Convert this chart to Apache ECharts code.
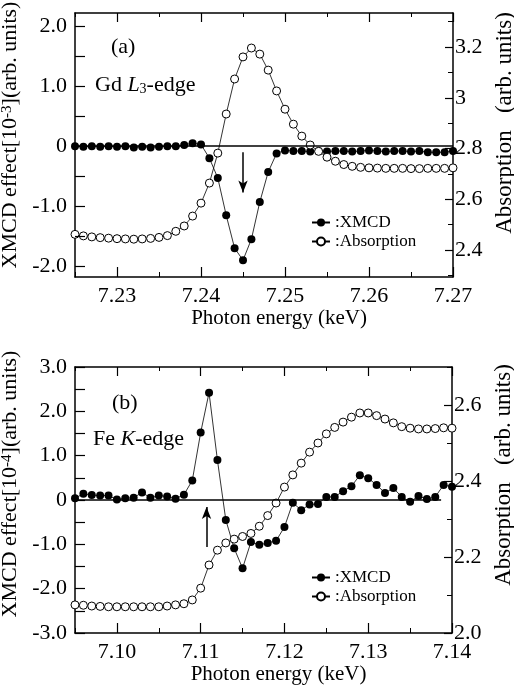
<!DOCTYPE html>
<html>
<head>
<meta charset="utf-8">
<script src="https://cdn.jsdelivr.net/npm/echarts@6/dist/echarts.min.js"></script>
<style>
  html, body { margin: 0; padding: 0; background: #fff; }
  #chart { width: 514px; height: 689px; }
</style>
</head>
<body>
<div id="chart"></div>
<script>
(function () {

  // ---- panel (a): Gd L3-edge ----
  var energyA = [7.225, 7.226, 7.227, 7.228, 7.229, 7.230, 7.231, 7.232, 7.233, 7.234,
                 7.235, 7.236, 7.237, 7.238, 7.239, 7.240, 7.241, 7.242, 7.243, 7.244,
                 7.245, 7.246, 7.247, 7.248, 7.249, 7.250, 7.251, 7.252, 7.253, 7.254,
                 7.255, 7.256, 7.257, 7.258, 7.259, 7.260, 7.261, 7.262, 7.263, 7.264,
                 7.265, 7.266, 7.267, 7.268, 7.269, 7.270];
  var xmcdA = [0.00, -0.01, 0.00, -0.01, 0.00, -0.01, 0.00, -0.02, -0.01, -0.02,
               -0.01, 0.00, 0.00, 0.02, 0.05, 0.03, -0.20, -0.53, -1.15, -1.70,
               -1.90, -1.55, -0.93, -0.43, -0.12, -0.07, -0.08, -0.08, -0.09, -0.08,
               -0.09, -0.08, -0.08, -0.09, -0.08, -0.07, -0.08, -0.09, -0.08, -0.08,
               -0.09, -0.08, -0.10, -0.10, -0.10, -0.08];
  var absA = [2.462, 2.456, 2.452, 2.449, 2.447, 2.445, 2.444, 2.443, 2.444, 2.446,
              2.450, 2.457, 2.474, 2.495, 2.534, 2.585, 2.664, 2.782, 2.936, 3.074,
              3.161, 3.196, 3.172, 3.109, 3.027, 2.955, 2.896, 2.849, 2.814, 2.789,
              2.766, 2.750, 2.737, 2.730, 2.726, 2.724, 2.723, 2.722, 2.722, 2.722,
              2.721, 2.721, 2.722, 2.722, 2.722, 2.724];

  // ---- panel (b): Fe K-edge ----
  var energyB = [7.095, 7.096, 7.097, 7.098, 7.099, 7.100, 7.101, 7.102, 7.103, 7.104,
                 7.105, 7.106, 7.107, 7.108, 7.109, 7.110, 7.111, 7.112, 7.113, 7.114,
                 7.115, 7.116, 7.117, 7.118, 7.119, 7.120, 7.121, 7.122, 7.123, 7.124,
                 7.125, 7.126, 7.127, 7.128, 7.129, 7.130, 7.131, 7.132, 7.133, 7.134,
                 7.135, 7.136, 7.137, 7.138, 7.139, 7.140];
  var xmcdB = [0.04, 0.14, 0.11, 0.10, 0.10, 0.01, 0.04, 0.05, 0.17, 0.05,
               0.10, 0.08, 0.03, 0.12, 0.44, 1.52, 2.42, 0.90, -0.45, -1.09,
               -1.54, -0.95, -1.01, -0.97, -0.92, -0.61, -0.06, -0.23, -0.10, -0.09,
               0.07, 0.07, 0.20, 0.31, 0.56, 0.49, 0.34, 0.16, 0.27, 0.07,
               -0.04, 0.09, 0.02, 0.07, 0.34, 0.30];
  var absB = [2.074, 2.073, 2.071, 2.070, 2.069, 2.069, 2.069, 2.069, 2.069, 2.069,
              2.069, 2.071, 2.074, 2.077, 2.087, 2.118, 2.179, 2.218, 2.237, 2.247,
              2.254, 2.262, 2.281, 2.309, 2.342, 2.384, 2.416, 2.447, 2.476, 2.500,
              2.524, 2.541, 2.555, 2.568, 2.579, 2.579, 2.572, 2.563, 2.553, 2.543,
              2.539, 2.537, 2.537, 2.538, 2.540, 2.539];

  // ---- ticks ----
  var xTicksA = [7.23, 7.24, 7.25, 7.26, 7.27];
  var xMinorA = [7.225, 7.235, 7.245, 7.255, 7.265];
  var yTicksA = [-2, -1, 0, 1, 2];
  var yMinorA = [-2, -1.5, -1, -0.5, 0, 0.5, 1, 1.5, 2];
  var rTicksA = [2.4, 2.6, 2.8, 3.0, 3.2];
  var rMinorA = [2.3, 2.5, 2.7, 2.9, 3.1, 3.3];

  var xTicksB = [7.10, 7.11, 7.12, 7.13, 7.14];
  var xMinorB = [7.095, 7.105, 7.115, 7.125, 7.135];
  var yTicksB = [-3, -2, -1, 0, 1, 2, 3];
  var yMinorB = [-3, -2.5, -2, -1.5, -1, -0.5, 0, 0.5, 1, 1.5, 2, 2.5, 3];
  var rTicksB = [2.0, 2.2, 2.4, 2.6];
  var rMinorB = [2.1, 2.3, 2.5, 2.7];

  // axis ranges
  var rangeA = {x: [7.225, 7.27], y: [-2.18, 2.22], r: [2.294, 3.334]};
  var rangeB = {x: [7.095, 7.14], y: [-3, 3], r: [2.0, 2.7]};

  // arrows (data coords)
  var arrowA = [[7.245, -0.10], [7.245, -0.77]];
  var arrowB = [[7.1107, -1.06], [7.1107, -0.16]];

  var FONT = '"Liberation Serif", "Times New Roman", serif';
  var BLACK = '#000';

  var gridA = {left: 75, top: 13, width: 378, height: 264};
  var gridB = {left: 75, top: 367, width: 377, height: 266};

  function pairs(xs, ys){
    return xs.map(function(x, i){ return [x, ys[i]]; });
  }

  function fmtLeft(v){ return Math.abs(v) < 1e-9 ? '0' : v.toFixed(1); }
  function fmtRightA(v){ return Math.abs(v - 3) < 1e-9 ? '3' : v.toFixed(1); }
  function fmtRightB(v){ return v.toFixed(1); }

  function frameLine(){
    return {onZero: false, show: true, lineStyle: {color: BLACK, width: 1.5}};
  }

  function xAxes(grid, rg, major, name){
    return [
      {
        type: 'value', gridIndex: grid, position: 'bottom', min: rg.x[0], max: rg.x[1],
        splitLine: {show: false}, axisLine: frameLine(), axisTick: {show: false},
        name: name, nameLocation: 'middle', nameGap: 30,
        nameTextStyle: {fontFamily: FONT, fontSize: 21, color: BLACK, padding: [0, 0, 0, 30]},
        axisLabel: {show: true, margin: 8, customValues: major, fontFamily: FONT, fontSize: 22, color: BLACK,
                    formatter: function(v){ return v.toFixed(2); }}
      },
      {
        type: 'value', gridIndex: grid, position: 'top', min: rg.x[0], max: rg.x[1],
        splitLine: {show: false}, axisLine: frameLine(), axisTick: {show: false}, axisLabel: {show: false}
      }
    ];
  }

  function yAxes(grid, rg, lTicks, lName, lShift, rTicks, rFmt, rName, rShift){
    return [
      {
        type: 'value', gridIndex: grid, position: 'left', min: rg.y[0], max: rg.y[1],
        splitLine: {show: false}, axisLine: frameLine(), axisTick: {show: false},
        name: lName, nameLocation: 'middle', nameRotate: 90, nameGap: 40,
        nameTextStyle: {fontFamily: FONT, fontSize: 22, color: BLACK, padding: [0, 0, 0, lShift],
          rich: {sup: {fontFamily: FONT, fontSize: 15, color: BLACK, verticalAlign: 'top', lineHeight: 12}}},
        axisLabel: {margin: 8, customValues: lTicks, fontFamily: FONT, fontSize: 22, color: BLACK, formatter: fmtLeft}
      },
      {
        type: 'value', gridIndex: grid, position: 'right', min: rg.r[0], max: rg.r[1],
        splitLine: {show: false}, axisLine: frameLine(), axisTick: {show: false},
        name: rName, nameLocation: 'middle', nameRotate: 90, nameGap: 40,
        nameTextStyle: {fontFamily: FONT, fontSize: 23, color: BLACK, padding: [0, 0, 0, rShift]},
        axisLabel: {margin: 2, customValues: rTicks, fontFamily: FONT, fontSize: 22, color: BLACK, formatter: rFmt}
      }
    ];
  }

  // inward tick marks as short mark lines in data space (pixel length -> data units)
  function seg(a, b, w){ return [{coord: a, lineStyle: {width: w, color: BLACK}}, {coord: b}]; }

  function frameTicks(rg, g, xMajor, xMinor, yMinor){
    var dy = (rg.y[1] - rg.y[0]) / g.height;
    var dx = (rg.x[1] - rg.x[0]) / g.width;
    var out = [];
    xMajor.forEach(function(v){
      out.push(seg([v, rg.y[0]], [v, rg.y[0] + 10 * dy], 1.2));
      out.push(seg([v, rg.y[1]], [v, rg.y[1] - 9 * dy], 1.2));
    });
    xMinor.forEach(function(v){
      out.push(seg([v, rg.y[0]], [v, rg.y[0] + 5 * dy], 1));
      out.push(seg([v, rg.y[1]], [v, rg.y[1] - 4 * dy], 1));
    });
    yMinor.forEach(function(v){
      out.push(seg([rg.x[0], v], [rg.x[0] + 10 * dx], 1.2));
    });
    return out;
  }

  function rightTicks(rg, g, rMajor, rMinor){
    var dx = (rg.x[1] - rg.x[0]) / g.width;
    var out = [];
    rMajor.forEach(function(v){ out.push(seg([rg.x[1], v], [rg.x[1] - 8 * dx, v], 1.2)); });
    rMinor.forEach(function(v){ out.push(seg([rg.x[1], v], [rg.x[1] - 5 * dx, v], 1)); });
    return out;
  }

  function markLines(items){
    return {
      silent: true, animation: false, symbol: ['none', 'none'],
      label: {show: false},
      lineStyle: {color: BLACK, width: 1.5, type: 'solid'},
      data: items
    };
  }

  function xmcdSeries(name, xi, yi, data, zeroLine, arrow, ticks){
    return {
      name: name, type: 'line', xAxisIndex: xi, yAxisIndex: yi, data: data,
      symbol: 'circle', symbolSize: 8, showAllSymbol: true,
      lineStyle: {color: BLACK, width: 0.8},
      itemStyle: {color: BLACK},
      markLine: markLines([
        [{coord: zeroLine[0]}, {coord: zeroLine[1]}],
        [{coord: arrow[0], symbol: 'none'}, {coord: arrow[1], symbol: 'arrow', symbolSize: [7, 12]}]
      ].concat(ticks))
    };
  }

  function absSeries(name, xi, yi, data, ticks){
    return {
      name: name, type: 'line', xAxisIndex: xi, yAxisIndex: yi, data: data,
      symbol: 'circle', symbolSize: 8, showAllSymbol: true,
      lineStyle: {color: BLACK, width: 0.8},
      itemStyle: {color: '#fff', borderColor: BLACK, borderWidth: 1},
      markLine: markLines(ticks)
    };
  }

  function legendAt(top){
    return {
      data: ['XMCD', 'Absorption'], orient: 'vertical', left: 306, top: top,
      itemWidth: 18, itemHeight: 10, itemGap: 2, selectedMode: false,
      formatter: function(n){ return ':' + n; },
      textStyle: {fontFamily: FONT, fontSize: 17, color: BLACK}
    };
  }

  function label(x, y, text, rich){
    return {
      type: 'text', x: x, y: y, silent: true,
      style: {text: text, fontFamily: FONT, fontSize: 22, fill: BLACK, verticalAlign: 'middle', rich: rich}
    };
  }

  var richEdge = {
    i: {fontFamily: FONT, fontSize: 22, fontStyle: 'italic', color: BLACK},
    sub: {fontFamily: FONT, fontSize: 14, color: BLACK, verticalAlign: 'bottom', lineHeight: 10}
  };

  // left-tick segments need an y value too
  function fixLeft(items, rg){
    items.forEach(function(it){
      if (it[1].coord.length === 1) it[1].coord = [it[1].coord[0], it[0].coord[1]];
    });
    return items;
  }

  var chart = echarts.init(document.getElementById('chart'), null, {renderer: 'canvas'});

  var opt = {
    animation: false,
    backgroundColor: '#fff',
    grid: [
      {left: gridA.left, top: gridA.top, width: gridA.width, height: gridA.height, outerBoundsMode: 'none', containLabel: false},
      {left: gridB.left, top: gridB.top, width: gridB.width, height: gridB.height, outerBoundsMode: 'none', containLabel: false}
    ],
    // xAxis 0 bottom / 1 top: panel (a); 2 bottom / 3 top: panel (b)
    xAxis: [].concat(
      xAxes(0, rangeA, xTicksA, 'Photon energy (keV)'),
      xAxes(1, rangeB, xTicksB, 'Photon energy (keV)')
    ),
    // yAxis 0 left / 1 right: panel (a); 2 left / 3 right: panel (b)
    yAxis: [].concat(
      yAxes(0, rangeA, yTicksA, 'XMCD effect[10{sup|-3}](arb. units)', 20,
            rTicksA, fmtRightA, 'Absorption   (arb. units)', 44),
      yAxes(1, rangeB, yTicksB, 'XMCD effect[10{sup|-4}](arb. units)', 32,
            rTicksB, fmtRightB, 'Absorption   (arb. units)', 50)
    ),
    legend: [legendAt(209), legendAt(564)],
    series: [
      xmcdSeries('XMCD', 0, 0, pairs(energyA, xmcdA), [[7.225, 0], [7.27, 0]], arrowA,
                 fixLeft(frameTicks(rangeA, gridA, xTicksA, xMinorA, yMinorA), rangeA)),
      absSeries('Absorption', 0, 1, pairs(energyA, absA), rightTicks(rangeA, gridA, rTicksA, rMinorA)),
      xmcdSeries('XMCD', 2, 2, pairs(energyB, xmcdB), [[7.095, 0], [7.1387, 0]], arrowB,
                 fixLeft(frameTicks(rangeB, gridB, xTicksB, xMinorB, yMinorB), rangeB)),
      absSeries('Absorption', 2, 3, pairs(energyB, absB), rightTicks(rangeB, gridB, rTicksB, rMinorB))
    ],
    graphic: [
      label(111, 47, '(a)'),
      label(95, 85, 'Gd {i|L}{sub|3}-edge', richEdge),
      label(112, 403, '(b)'),
      label(93, 439, 'Fe {i|K}-edge', richEdge)
    ]
  };

  chart.setOption(opt);
})();
</script>
</body>
</html>
